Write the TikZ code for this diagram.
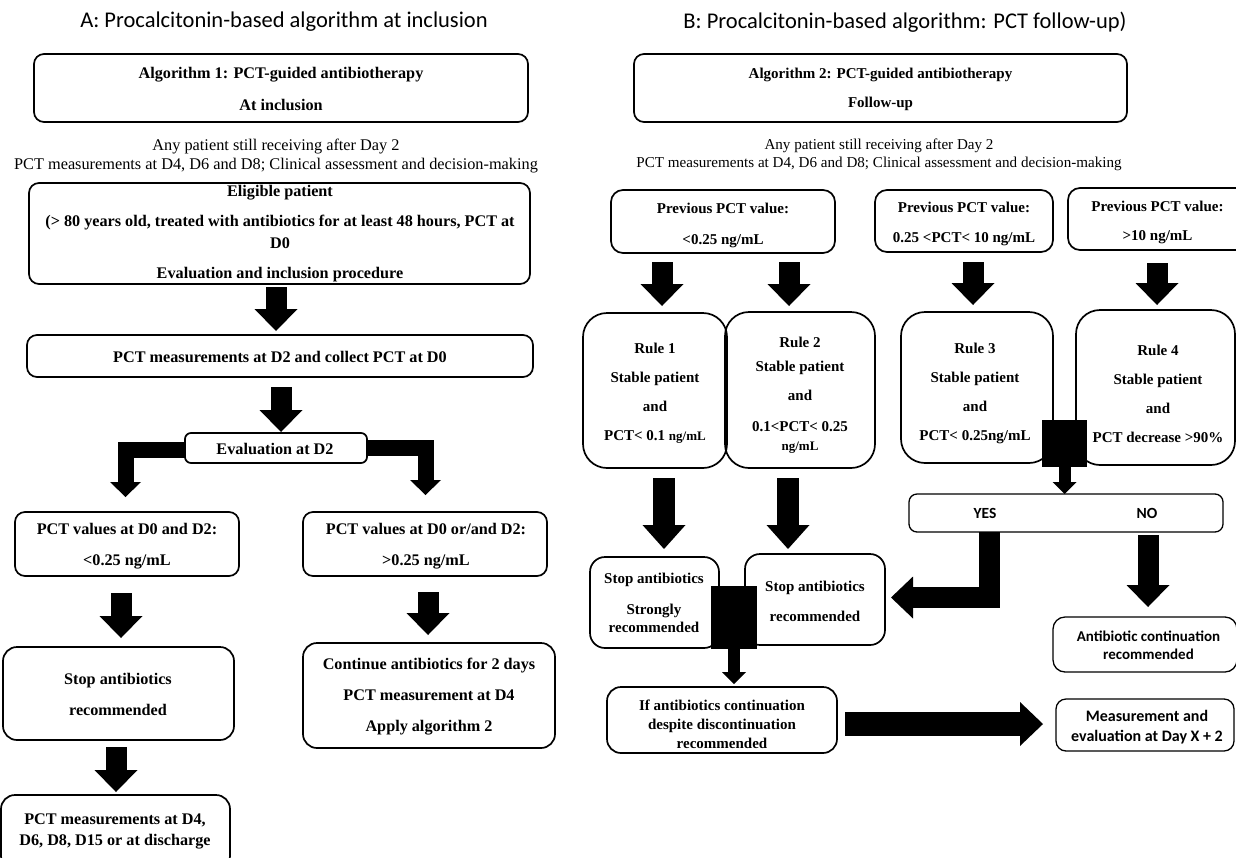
\documentclass[tikz,border=0pt]{standalone}
\usepackage{fontspec}
\setmainfont{Liberation Serif}
\newfontfamily\calfont{Carlito}
\usetikzlibrary{arrows.meta}
\begin{document}
\begin{tikzpicture}[x=1pt,y=-1pt,
  bx/.style={draw, line width=1.7pt, rectangle, rounded corners=10pt, inner sep=0pt, outer sep=0pt},
  thinbx/.style={bx, line width=1.3pt, rounded corners=8pt},
  rulebx/.style={bx, rounded corners=24pt},
  sqr/.style={fill=black, rectangle, inner sep=0pt, outer sep=0pt},
  tl/.style={font=\fontsize{16.2}{19}\selectfont\bfseries, align=center, inner sep=0pt},
  tr/.style={font=\fontsize{15}{18}\selectfont\bfseries, align=center, inner sep=0pt},
  pl/.style={font=\fontsize{16.3}{19}\selectfont, align=center, inner sep=0pt},
  plr/.style={font=\fontsize{15.1}{18}\selectfont, align=center, inner sep=0pt},
  ttl/.style={font=\calfont\fontsize{22.5}{26}\selectfont, inner sep=0pt},
  cb/.style={font=\calfont\fontsize{15}{18}\selectfont\bfseries, align=center, inner sep=0pt},
  blk/.style={line width=21pt, -{Triangle[width=43pt,length=22pt,line width=0pt]}},
  blkl/.style={line width=22pt, -{Triangle[width=43pt,length=24pt,line width=0pt]}},
  bent/.style={line width=16pt, line join=miter, -{Triangle[width=31pt,length=15pt,line width=0pt]}},
  bentw/.style={line width=21pt, line join=miter, -{Triangle[width=42pt,length=22pt,line width=0pt]}},
  smallarr/.style={line width=12pt, -{Triangle[width=24pt,length=12pt,line width=0pt]}},
  bigarr/.style={line width=24pt, -{Triangle[width=44pt,length=23pt,line width=0pt]}},
]
\useasboundingbox (0,0) rectangle (1236,857);
\clip (0,0) rectangle (1236,857);

% ---------------- Titles
\node[ttl] (tA) at (284,22) {A: Procalcitonin-based algorithm at inclusion};
\node[ttl] (tB) at (905,22) {B: Procalcitonin-based algorithm: PCT follow-up)};

% ---------------- Panel A
\node[bx, minimum width=494pt, minimum height=68pt] (b1) at (281,88) {};
\node[tl] (b1t) at (281,89) {Algorithm 1: PCT-guided antibiotherapy\\[13pt]At inclusion};

\node[pl] (pl1) at (276,156.5) {Any patient still receiving after Day 2\\PCT measurements at D4, D6 and D8; Clinical assessment and decision-making};

\node[bx, minimum width=501pt, minimum height=101pt] (b2) at (279.5,233.5) {};
\node[tl, font=\fontsize{16.2}{22}\selectfont\bfseries] (b2t) at (280,234) {Eligible patient\\[8pt](> 80 years old, treated with antibiotics for at least 48 hours, PCT at\\D0\\[8pt]Evaluation and inclusion procedure};

\node[bx, minimum width=506pt, minimum height=42pt] (b3) at (280,356) {};
\node[tl] (b3t) at (280,357) {PCT measurements at D2 and collect PCT at D0};

\node[bx, rounded corners=6pt, minimum width=182pt, minimum height=30pt] (b4) at (276,448) {};
\node[tl] (b4t) at (275,449) {Evaluation at D2};

\node[bx, minimum width=224pt, minimum height=64pt] (b5) at (127,544) {};
\node[tl] (b5t) at (127,546) {PCT values at D0 and D2:\\[12pt]<0.25 ng/mL};

\node[bx, minimum width=244pt, minimum height=64pt] (b6) at (425,544) {};
\node[tl] (b6t) at (426,546) {PCT values at D0 or/and D2:\\[12pt]>0.25 ng/mL};

\node[bx, rounded corners=14pt, minimum width=231pt, minimum height=93pt] (b7) at (118.5,693.5) {};
\node[tl] (b7t) at (118,694) {Stop antibiotics\\[12pt]recommended};

\node[bx, rounded corners=14pt, minimum width=252pt, minimum height=105pt] (b8) at (429,695.5) {};
\node[tl] (b8t) at (429,697) {Continue antibiotics for 2 days\\[12pt]PCT measurement at D4\\[12pt]Apply algorithm 2};

\node[bx, rounded corners=14pt, minimum width=229pt, minimum height=75pt] (b9) at (115.5,832.5) {};
\node[tl] (b9t) at (115,831) {PCT measurements at D4,\\[2pt]D6, D8, D15 or at discharge};

% arrows panel A
\coordinate (a1s) at (276,287); \coordinate (a1e) at (276,331);
\draw[blk] (a1s) -- (a1e);
\coordinate (a2s) at (281,387); \coordinate (a2e) at (281,432);
\draw[blk] (a2s) -- (a2e);
\coordinate (bLc) at (125.5,449.5); \coordinate (bLe) at (125.5,497);
\draw[bent] (b4.west |- bLc) -- (bLc) -- (bLe);
\coordinate (bRc) at (425.5,447.5); \coordinate (bRe) at (425.5,495);
\draw[bent] (b4.east |- bRc) -- (bRc) -- (bRe);
\coordinate (a3s) at (121,593); \coordinate (a3e) at (121,638);
\draw[blk] (a3s) -- (a3e);
\coordinate (a4s) at (428,592); \coordinate (a4e) at (428,635);
\draw[blk] (a4s) -- (a4e);
\coordinate (a5s) at (116,747); \coordinate (a5e) at (116,792);
\draw[blk] (a5s) -- (a5e);

% ---------------- Panel B
\node[bx, minimum width=493pt, minimum height=68pt] (c1) at (880.5,88) {};
\node[tr] (c1t) at (880.5,89) {Algorithm 2: PCT-guided antibiotherapy\\[11pt]Follow-up};

\node[plr] (pl2) at (879,155) {Any patient still receiving after Day 2\\PCT measurements at D4, D6 and D8; Clinical assessment and decision-making};

\node[bx, rounded corners=12pt, minimum width=224pt, minimum height=63pt] (p1) at (723,221.5) {};
\node[tr] (p1t) at (723,225) {Previous PCT value:\\[13pt]<0.25 ng/mL};
\node[bx, rounded corners=12pt, minimum width=178pt, minimum height=62pt] (p2) at (964,221) {};
\node[tr] (p2t) at (964,224) {Previous PCT value:\\[12pt]0.25 <PCT< 10 ng/mL};
\node[bx, rounded corners=12pt, minimum width=182pt, minimum height=62pt] (p3) at (1159,219) {};
\node[tr] (p3t) at (1157.5,222) {Previous PCT value:\\[11pt]>10 ng/mL};

\node[rulebx, minimum width=144pt, minimum height=155pt] (r1) at (655,390.5) {};
\node[tr] (r1t) at (655,393) {Rule 1\\[11pt]Stable patient\\[11pt]and\\[11pt]PCT< 0.1 {\fontsize{13}{18}\selectfont ng/mL}};
\node[rulebx, minimum width=150pt, minimum height=156pt] (r2) at (800,390) {};
\node[tr] (r2t) at (800,395.5) {Rule 2\\[6pt]Stable patient\\[11pt]and\\[13pt]0.1<PCT< 0.25\\[1pt]{\fontsize{13}{18}\selectfont ng/mL}};
\node[rulebx, minimum width=152pt, minimum height=151pt] (r3) at (977,387.5) {};
\node[tr] (r3t) at (975,393.5) {Rule 3\\[11pt]Stable patient\\[11pt]and\\[11pt]PCT< 0.25ng/mL};
\node[rulebx, minimum width=159pt, minimum height=155pt] (r4) at (1155.5,387.5) {};
\node[tr] (r4t) at (1158,393.5) {Rule 4\\[11pt]Stable patient\\[11pt]and\\[11pt]PCT decrease >90\%};

\node[thinbx, minimum width=314pt, minimum height=38pt] (yn) at (1066,513) {};
\node[cb, font=\calfont\fontsize{15.5}{18}\selectfont\bfseries] (yes) at (985,513) {YES};
\node[cb, font=\calfont\fontsize{15.5}{18}\selectfont\bfseries] (no) at (1147,513) {NO};

\node[bx, rounded corners=15pt, minimum width=129pt, minimum height=91pt] (s1) at (654.5,602.5) {};
\node[tr] (s1t) at (654,603) {Stop antibiotics\\[13pt]Strongly\\recommended};
\node[bx, rounded corners=15pt, minimum width=140pt, minimum height=91pt] (s2) at (815,599.5) {};
\node[tr] (s2t) at (815,601) {Stop antibiotics\\[12pt]recommended};

\node[thinbx, rounded corners=12pt, minimum width=184pt, minimum height=55pt] (ac) at (1145,644.5) {};
\node[cb] (act) at (1148.5,645.5) {Antibiotic continuation\\recommended};

\node[bx, rounded corners=14pt, minimum width=230pt, minimum height=66pt] (ifb) at (722,720) {};
\node[tr, font=\fontsize{15}{19}\selectfont\bfseries] (ifbt) at (722,724) {If antibiotics continuation\\despite discontinuation\\recommended};

\node[thinbx, rounded corners=10pt, minimum width=178pt, minimum height=52pt] (me) at (1145,725) {};
\node[cb, font=\calfont\fontsize{16}{20}\selectfont\bfseries] (met) at (1147,727) {Measurement and\\evaluation at Day X + 2};

% black squares
\node[sqr, minimum width=45pt, minimum height=47pt] (sq1) at (1064.5,443.5) {};
\node[sqr, minimum width=46pt, minimum height=63pt] (sq2) at (734,617.5) {};

% arrows panel B
\coordinate (d1s) at (662,262); \coordinate (d1e) at (662,306);
\draw[blk] (d1s) -- (d1e);
\coordinate (d2s) at (789,262); \coordinate (d2e) at (789,306);
\draw[blk] (d2s) -- (d2e);
\coordinate (d3s) at (973,262); \coordinate (d3e) at (973,305);
\draw[blk] (d3s) -- (d3e);
\coordinate (d4s) at (1157,263); \coordinate (d4e) at (1157,305);
\draw[blk] (d4s) -- (d4e);

\draw[smallarr] (sq1.south) -- (sq1.south |- yn.north);

\coordinate (e1s) at (664,478); \coordinate (e1e) at (664,549);
\draw[blkl] (e1s) -- (e1e);
\coordinate (e2s) at (788,478); \coordinate (e2e) at (788,549);
\draw[blkl] (e2s) -- (e2e);

\coordinate (ysc) at (989,597.5); \coordinate (yse) at (891,597.5);
\draw[bentw] (yn.south -| ysc) -- (ysc) -- (yse);
\coordinate (nos) at (1148,535); \coordinate (noe) at (1148,607);
\draw[blk] (nos) -- (noe);

\coordinate (sqe) at (734,684);
\draw[smallarr] (sq2.south) -- (sqe);

\coordinate (bgs) at (845,724); \coordinate (bge) at (1043,724);
\draw[bigarr] (bgs) -- (bge);
\end{tikzpicture}
\end{document}
